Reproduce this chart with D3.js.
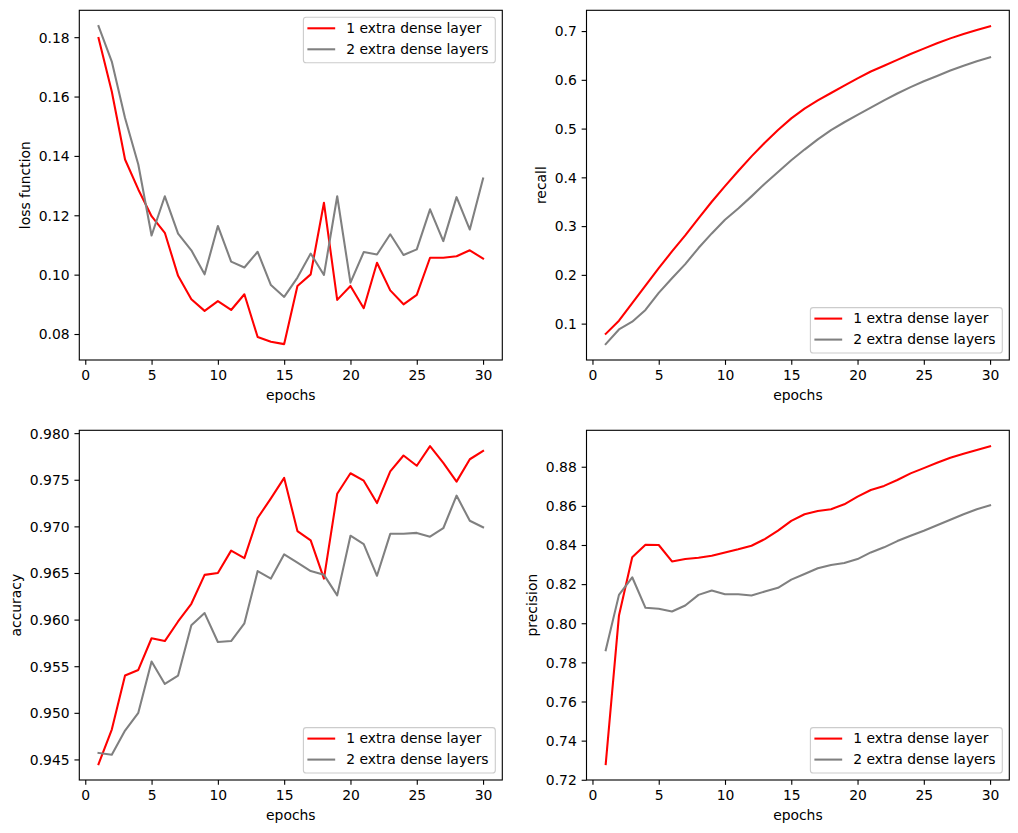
<!DOCTYPE html>
<html><head><meta charset="utf-8">
<script src="https://cdn.jsdelivr.net/npm/d3@7"></script>
<style>
html,body{margin:0;padding:0;background:#fff;}
text{font-family:"DejaVu Sans",sans-serif;}
</style></head>
<body><svg id="c" width="1018" height="833"></svg>
<script>
const epochs = d3.range(1, 31);
const seriesNames = ["1 extra dense layer", "2 extra dense layers"];
const seriesColors = ["#ff0000", "#808080"];

const loss1 = [0.1797,0.1617,0.1388,0.1287,0.1197,0.1141,0.0996,0.0917,0.0878,0.0911,0.0881,0.0934,0.0790,0.0774,0.0766,0.0962,0.1001,0.1242,0.0915,0.0962,0.0887,0.1040,0.0947,0.0900,0.0932,0.1057,0.1057,0.1062,0.1082,0.1054];
const loss2 = [0.1837,0.1718,0.1528,0.1371,0.1132,0.1264,0.1138,0.1082,0.1001,0.1164,0.1044,0.1024,0.1077,0.0965,0.0925,0.0990,0.1071,0.0999,0.1264,0.0973,0.1076,0.1068,0.1136,0.1066,0.1085,0.1220,0.1113,0.1261,0.1152,0.1324];

const recall1 = [0.079,0.106,0.142,0.178,0.214,0.248,0.281,0.316,0.350,0.382,0.413,0.443,0.471,0.497,0.521,0.541,0.558,0.573,0.588,0.603,0.617,0.629,0.641,0.653,0.664,0.675,0.685,0.694,0.702,0.710];
const recall2 = [0.058,0.088,0.104,0.128,0.163,0.193,0.222,0.255,0.285,0.313,0.336,0.361,0.387,0.411,0.435,0.457,0.478,0.497,0.513,0.528,0.543,0.558,0.572,0.585,0.597,0.608,0.619,0.629,0.638,0.646];

const acc1 = [0.9445,0.9482,0.9540,0.9546,0.9580,0.9577,0.9598,0.9617,0.9648,0.9650,0.9674,0.9666,0.9709,0.9730,0.9752,0.9695,0.9685,0.9644,0.9735,0.9757,0.9749,0.9725,0.9759,0.9776,0.9765,0.9786,0.9768,0.9748,0.9772,0.9781];
const acc2 = [0.9457,0.9455,0.9481,0.9500,0.9555,0.9531,0.9540,0.9594,0.9607,0.9576,0.9577,0.9596,0.9652,0.9644,0.9670,0.9661,0.9652,0.9648,0.9626,0.9690,0.9681,0.9647,0.9692,0.9692,0.9693,0.9689,0.9698,0.9733,0.9706,0.9699];

const prec1 = [0.7280,0.8040,0.8337,0.8401,0.8400,0.8316,0.8328,0.8335,0.8345,0.8362,0.8378,0.8396,0.8430,0.8473,0.8523,0.8557,0.8574,0.8583,0.8608,0.8647,0.8681,0.8702,0.8732,0.8766,0.8793,0.8820,0.8846,0.8866,0.8885,0.8905];
const prec2 = [0.7862,0.8145,0.8235,0.8079,0.8074,0.8060,0.8091,0.8145,0.8167,0.8148,0.8148,0.8142,0.8162,0.8181,0.8223,0.8252,0.8281,0.8298,0.8308,0.8328,0.8362,0.8388,0.8420,0.8447,0.8473,0.8501,0.8529,0.8557,0.8583,0.8603];

const xTicks = [0,5,10,15,20,25,30];
const lossTicks = [0.08,0.10,0.12,0.14,0.16,0.18];
const recallTicks = [0.1,0.2,0.3,0.4,0.5,0.6,0.7];
const accTicks = [0.945,0.950,0.955,0.960,0.965,0.970,0.975,0.980];
const precTicks = [0.72,0.74,0.76,0.78,0.80,0.82,0.84,0.86,0.88];

const panels = [
  {ylabel:"loss function", s:[loss1,loss2], ticks:lossTicks, fmt:".2f", box:[79.3,10.3,502.3,360], legend:"top"},
  {ylabel:"recall", s:[recall1,recall2], ticks:recallTicks, fmt:".1f", box:[586.5,10.3,1009.3,360], legend:"bottom"},
  {ylabel:"accuracy", s:[acc1,acc2], ticks:accTicks, fmt:".3f", box:[79.3,430.3,502.3,780], legend:"bottom"},
  {ylabel:"precision", s:[prec1,prec2], ticks:precTicks, fmt:".2f", box:[586.5,430.3,1009.3,780], legend:"bottom"}
];

const FS = 13.9;
const svg = d3.select("#c");

panels.forEach((p, pi) => {
  const [x0,y0,x1,y1] = p.box;
  const xs = d3.scaleLinear().domain([1-29*0.05, 30+29*0.05]).range([x0,x1]);
  const all = p.s[0].concat(p.s[1]);
  const mn = d3.min(all), mx = d3.max(all), pad = (mx-mn)*0.05;
  const ys = d3.scaleLinear().domain([mn-pad, mx+pad]).range([y1,y0]);
  const g = svg.append("g");

  const line = d3.line().x((d,i)=>xs(epochs[i])).y(d=>ys(d));
  const clipId = "clip"+pi;
  g.append("clipPath").attr("id",clipId).append("rect").attr("x",x0).attr("y",y0).attr("width",x1-x0).attr("height",y1-y0);
  p.s.forEach((s,k)=>{
    g.append("path").datum(s).attr("d",line).attr("fill","none")
      .attr("stroke",seriesColors[k]).attr("stroke-width",2.08)
      .attr("stroke-linejoin","round").attr("stroke-linecap","square")
      .attr("clip-path","url(#"+clipId+")");
  });

  const xa = d3.axisBottom(xs).tickValues(xTicks).tickSize(4.86).tickPadding(4.86).tickFormat(d3.format("d"));
  const gx = g.append("g").attr("transform",`translate(0,${y1})`).call(xa);
  const ya = d3.axisLeft(ys).tickValues(p.ticks).tickSize(4.86).tickPadding(4.86).tickFormat(d3.format(p.fmt));
  const gy = g.append("g").attr("transform",`translate(${x0},0)`).call(ya);
  [gx,gy].forEach(a=>{
    a.select(".domain").remove();
    a.selectAll(".tick line").attr("stroke","#000").attr("stroke-width",1.11);
    a.selectAll(".tick text").attr("fill","#000").style("font-size",FS+"px").style("font-family","DejaVu Sans");
  });
  gx.selectAll(".tick text").attr("dy","0.71em").attr("y",9.7);
  gy.selectAll(".tick text").attr("dy","0.35em");

  g.append("rect").attr("x",x0).attr("y",y0).attr("width",x1-x0).attr("height",y1-y0)
    .attr("fill","none").attr("stroke","#000").attr("stroke-width",1.11);

  g.append("text").attr("x",(x0+x1)/2).attr("y",y1+39.5).attr("text-anchor","middle")
    .style("font-size",FS+"px").attr("fill","#000").text("epochs");

  let minX = Infinity;
  gy.selectAll(".tick text").each(function(){ const b=this.getBBox(); minX=Math.min(minX, x0 + b.x); });
  const lx = minX - 5.6 - 3.3;
  g.append("text").attr("transform",`translate(${lx},${(y0+y1)/2}) rotate(-90)`)
    .attr("text-anchor","middle").style("font-size",FS+"px").attr("fill","#000").text(p.ylabel);

  const lg = g.append("g");
  const bh = 45.4;
  const bTop = p.legend==="top" ? y0+7 : y1-7-bh;
  const txts = seriesNames.map((n,k)=> lg.append("text").attr("y",bTop+11+21*k).attr("dy","0.35em")
      .style("font-size",FS+"px").attr("fill","#000").text(n));
  const tw = d3.max(txts, t=>t.node().getComputedTextLength());
  const bw = 4 + 27.8 + 11.1 + tw + 6.7;
  const bLeft = x1 - 7 - bw;
  lg.insert("rect",":first-child").attr("x",bLeft).attr("y",bTop).attr("width",bw).attr("height",bh)
    .attr("rx",2.8).attr("fill","#fff").attr("fill-opacity",0.8).attr("stroke","#cccccc").attr("stroke-width",1.11);
  txts.forEach((t,k)=>{
    t.attr("x",bLeft+4+27.8+11.1);
    lg.append("line").attr("x1",bLeft+4).attr("x2",bLeft+4+27.8)
      .attr("y1",bTop+11+21*k).attr("y2",bTop+11+21*k)
      .attr("stroke",seriesColors[k]).attr("stroke-width",2.08);
  });
});
</script></body></html>
